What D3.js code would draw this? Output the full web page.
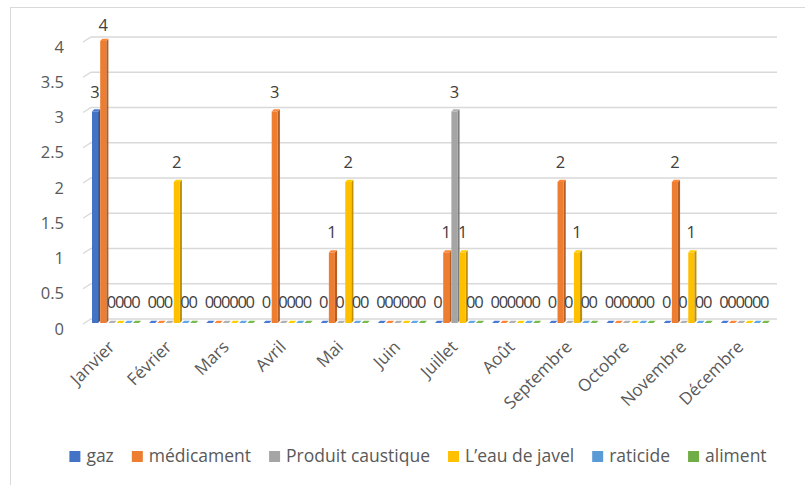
<!DOCTYPE html>
<html><head><meta charset="utf-8">
<script src="https://cdn.jsdelivr.net/npm/d3@7"></script>
<style>
html,body{margin:0;padding:0;background:#fff;}
svg{display:block;font-family:'Open Sans',sans-serif;}
</style></head>
<body>
<svg id="chart" width="805" height="485"></svg>
<script>
const months = ["Janvier","Février","Mars","Avril","Mai","Juin","Juillet","Août","Septembre","Octobre","Novembre","Décembre"];
const seriesNames = ["gaz","médicament","Produit caustique","L’eau de javel","raticide","aliment"];
const gaz        = [3,0,0,0,0,0,0,0,0,0,0,0];
const medicament = [4,0,0,3,1,0,1,0,2,0,2,0];
const caustique  = [0,0,0,0,0,0,3,0,0,0,0,0];
const javel      = [0,2,0,0,2,0,1,0,1,0,1,0];
const raticide   = [0,0,0,0,0,0,0,0,0,0,0,0];
const aliment    = [0,0,0,0,0,0,0,0,0,0,0,0];
const yTicks = [0,0.5,1,1.5,2,2.5,3,3.5,4];
const colors = ["#4472C4","#ED7D31","#A5A5A5","#FFC000","#5B9BD5","#70AD47"];

const seriesValues = [gaz,medicament,caustique,javel,raticide,aliment];
const svg = d3.select("#chart");

// chart frame
svg.append("rect").attr("x",10.5).attr("y",7.5).attr("width",820).attr("height",500)
  .attr("fill","none").attr("stroke","#d9d9d9").attr("stroke-width",1);

const y = d3.scaleLinear().domain([0,4]).range([323,41]);
const x0 = d3.scaleBand().domain(months).range([88,774]).paddingInner(0.14).paddingOuter(0.07);
const x1 = d3.scaleBand().domain(seriesNames).range([0,x0.bandwidth()]);
const front = x1.bandwidth()*0.74, depth = x1.bandwidth()-front;
const wallX0 = 83, wallDX = 8, wallDY = 5, wallRight = 777;

// gridlines (back wall + floor slant)
const grid = svg.append("g");
yTicks.forEach(v=>{
  const yy = y(v);
  grid.append("path")
    .attr("d",`M${wallX0},${yy+1}L${wallX0+wallDX},${yy+1-wallDY}L${wallRight},${yy+1-wallDY}`)
    .attr("fill","none").attr("stroke","#d9d9d9").attr("stroke-width",1.3);
});

// y tick labels
svg.append("g").selectAll("text").data(yTicks).join("text")
  .attr("x",64).attr("y",d=>y(d)+5).attr("text-anchor","end")
  .attr("dominant-baseline","central")
  .attr("font-size",16.5).attr("fill","#595959").text(d=>d);

// bars
const data = [];
months.forEach((m,i)=>seriesNames.forEach((s,j)=>data.push({m,s,j,v:seriesValues[j][i]})));
const bars = svg.append("g");
data.forEach(d=>{
  const bx = x0(d.m)+x1(d.s);
  const top = y(d.v), bot = y(0);
  const c = d3.color(colors[d.j]);
  const g = bars.append("g");
  g.append("path").attr("d",`M${bx+front},${top}L${bx+front+depth},${top-depth}L${bx+front+depth},${bot-depth}L${bx+front},${bot}Z`)
    .attr("fill",c.darker(0.8));
  g.append("path").attr("d",`M${bx},${top}L${bx+depth},${top-depth}L${bx+front+depth},${top-depth}L${bx+front},${top}Z`)
    .attr("fill",c.brighter(0.2));
  if (d.v>0) g.append("rect").attr("x",bx).attr("y",top).attr("width",front).attr("height",bot-top).attr("fill",c);
});

// data labels
svg.append("g").selectAll("text").data(data).join("text")
  .attr("x",d=>x0(d.m)+x1(d.s)+front/2)
  .attr("y",d=>Math.max(y(d.v)-15+0.5*d.v, 31))
  .attr("text-anchor","middle").attr("font-size",16.5).attr("fill","#404040")
  .text(d=>d.v);

// x labels
svg.append("g").selectAll("text").data(months).join("text")
  .attr("transform",d=>`translate(${x0(d)+x0.bandwidth()/2-1},348) rotate(-45)`)
  .attr("text-anchor","end").attr("font-size",17).attr("fill","#595959").text(d=>d);

// legend
const leg = svg.append("g");
let lx = 0;
seriesNames.forEach((s,j)=>{
  const g = leg.append("g");
  g.append("rect").attr("x",0).attr("y",-11).attr("width",11).attr("height",11).attr("fill",colors[j]);
  const t = g.append("text").attr("x",17).attr("y",0).attr("font-size",17.5).attr("fill","#595959").text(s);
  const w = 17 + t.node().getComputedTextLength();
  g.attr("transform",`translate(${lx},462)`);
  lx += w + 18;
});
const total = lx - 18;
leg.attr("transform",`translate(${418 - total/2},0)`);
</script>
</body></html>
